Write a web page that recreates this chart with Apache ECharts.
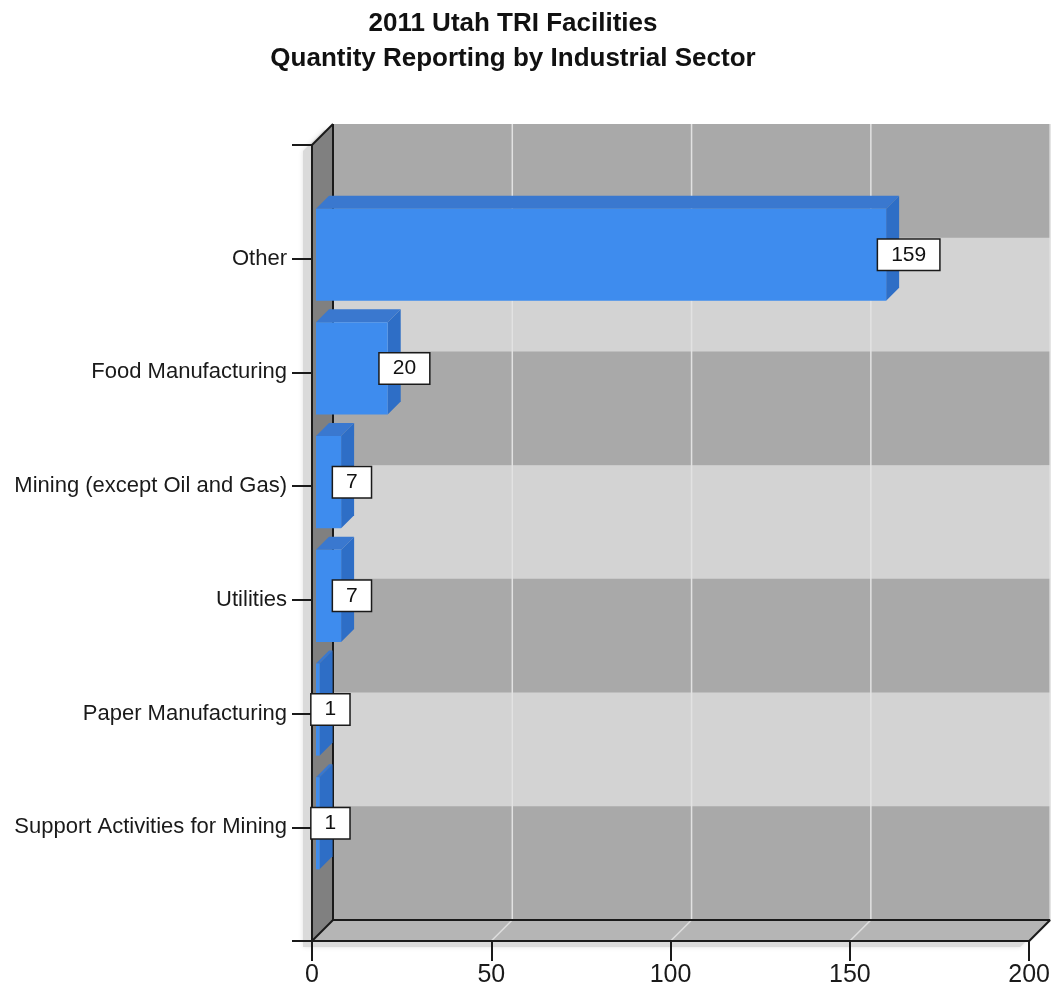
<!DOCTYPE html>
<html>
<head>
<meta charset="utf-8">
<title>2011 Utah TRI Facilities</title>
<script src="https://cdn.jsdelivr.net/npm/echarts@6/dist/echarts.min.js"></script>
<style>
  html, body { margin: 0; padding: 0; background: #ffffff; }
  #chart { width: 1053px; height: 992px; }
</style>
</head>
<body>
<div id="chart"></div>
<script>
// Sectors, listed top to bottom
const categories = [
  'Other',
  'Food Manufacturing',
  'Mining (except Oil and Gas)',
  'Utilities',
  'Paper Manufacturing',
  'Support Activities for Mining'
];
// Number of reporting facilities per sector
const facilityCounts = [159, 20, 7, 7, 1, 1];
// Value axis ticks
const xTicks = [0, 50, 100, 150, 200];

const X_MIN = xTicks[0];
const X_MAX = xTicks[xTicks.length - 1];
const X_STEP = xTicks[1] - xTicks[0];
const Y_MIN = 0;
const Y_MAX = categories.length + 1;

// pseudo-3D geometry (pixels)
const WALL_DEPTH = 21;
const BAR_FRONT = 4;
const BAR_DEPTH = 13;
const FONT = '"Liberation Sans", Arial, sans-serif';
const INK = '#1a1a1a';
const BAND_COLORS = ['#a9a9a9', '#d3d3d3'];

const barData = facilityCounts.map((v, i) => [v, i + 1]);

function shift(p, dx, dy) { return [p[0] + dx, p[1] + dy]; }

// drop shadow, striped back wall, side wall, floor and edges of the 3D box
function renderFrame(params, api) {
  const D = WALL_DEPTH;
  const back = p => shift(p, D, -D);
  const tl = api.coord([X_MIN, Y_MIN]);
  const bl = api.coord([X_MIN, Y_MAX]);
  const br = api.coord([X_MAX, Y_MAX]);
  const tr = api.coord([X_MAX, Y_MIN]);
  const children = [];

  const silhouette = [tl, back(tl), back(tr), back(br), br, bl].map(p => shift(p, -9, 6));
  children.push({
    type: 'polygon', shape: { points: silhouette },
    style: { fill: '#dadada', shadowBlur: 5, shadowColor: 'rgba(0,0,0,0.12)' }
  });

  // back wall stripes, one per axis interval
  for (let i = Y_MIN; i < Y_MAX; i++) {
    const a = back(api.coord([X_MIN, i]));
    const b = back(api.coord([X_MAX, i + 1]));
    children.push({
      type: 'rect',
      shape: { x: a[0], y: a[1], width: b[0] - a[0], height: b[1] - a[1] + 0.5 },
      style: { fill: BAND_COLORS[(i - Y_MIN) % 2] }
    });
  }
  // back wall grid lines
  xTicks.slice(1).forEach(t => {
    const p = back(api.coord([t, Y_MIN]));
    const q = back(api.coord([t, Y_MAX]));
    children.push({
      type: 'line', shape: { x1: p[0], y1: p[1], x2: q[0], y2: q[1] },
      style: { stroke: '#e2e2e2', lineWidth: 1.5 }
    });
  });

  children.push({
    type: 'polygon', shape: { points: [tl, back(tl), back(bl), bl] },
    style: { fill: '#808080' }
  });
  children.push({
    type: 'polygon', shape: { points: [bl, back(bl), back(br), br] },
    style: { fill: '#b5b5b5' }
  });
  xTicks.slice(1, -1).forEach(t => {
    const p = api.coord([t, Y_MAX]);
    children.push({
      type: 'line', shape: { x1: p[0], y1: p[1], x2: p[0] + D, y2: p[1] - D },
      style: { stroke: '#dedede', lineWidth: 1.5 }
    });
  });
  const edges = [
    [back(tl), back(bl)],
    [tl, back(tl)],
    [back(bl), back(br)],
    [bl, back(bl)],
    [br, back(br)]
  ];
  edges.forEach(e => {
    children.push({
      type: 'line', shape: { x1: e[0][0], y1: e[0][1], x2: e[1][0], y2: e[1][1] },
      style: { stroke: INK, lineWidth: 2 }
    });
  });
  return { type: 'group', children };
}

// one 3D bar with its value box
function renderBar(params, api) {
  const value = api.value(0);
  const pos = api.value(1);
  const base = api.coord([X_MIN, pos]);
  const end = api.coord([value, pos]);
  const band = api.size([0, 1])[1];
  const h = band * 0.81;
  const x0 = base[0] + BAR_FRONT;
  const x1 = end[0] + BAR_FRONT;
  const yc = base[1] - BAR_FRONT;
  const yt = yc - h / 2;
  const yb = yc + h / 2;
  const d = BAR_DEPTH;
  return {
    type: 'group',
    children: [
      {
        type: 'polygon',
        shape: { points: [[x0, yt], [x1, yt], [x1 + d, yt - d], [x0 + d, yt - d]] },
        style: { fill: '#3a78cf' }
      },
      {
        type: 'polygon',
        shape: { points: [[x1, yt], [x1 + d, yt - d], [x1 + d, yb - d], [x1, yb]] },
        style: { fill: '#2e6ec6' }
      },
      {
        type: 'rect',
        shape: { x: x0, y: yt, width: x1 - x0, height: h },
        style: { fill: '#3e8cee' }
      },
      {
        type: 'text',
        x: x1 - 8,
        y: yc,
        style: {
          text: String(value),
          font: '21px ' + FONT,
          fill: '#111111',
          align: 'left',
          verticalAlign: 'middle',
          backgroundColor: '#ffffff',
          borderColor: INK,
          borderWidth: 1.5,
          padding: [5, 13, 4, 13]
        }
      }
    ]
  };
}

const axisLineStyle = { color: INK, width: 2 };

const option = {
  backgroundColor: '#ffffff',
  animation: false,
  title: {
    text: '2011 Utah TRI Facilities\nQuantity Reporting by Industrial Sector',
    left: 508,
    top: 1,
    textAlign: 'center',
    textStyle: {
      fontFamily: FONT,
      fontSize: 26,
      fontWeight: 'bold',
      lineHeight: 35,
      color: '#111111'
    }
  },
  grid: { left: 312, top: 145, width: 718, height: 796 },
  xAxis: {
    type: 'value', min: X_MIN, max: X_MAX, interval: X_STEP,
    z: 5,
    axisLine: { show: true, onZero: false, lineStyle: axisLineStyle },
    axisTick: { show: true, length: 20, lineStyle: axisLineStyle },
    axisLabel: { fontFamily: FONT, fontSize: 25, color: INK, margin: 22 },
    splitLine: { show: false }
  },
  yAxis: {
    type: 'value', inverse: true, min: Y_MIN, max: Y_MAX, interval: 1,
    z: 5,
    axisLine: { show: true, onZero: false, lineStyle: axisLineStyle },
    axisTick: { show: true, length: 20, lineStyle: axisLineStyle },
    axisLabel: {
      fontFamily: FONT, fontSize: 22, color: INK, margin: 25,
      formatter: v => categories[v - 1] || ''
    },
    splitLine: { show: false }
  },
  series: [
    {
      type: 'custom',
      name: 'frame',
      z: 1,
      clip: false,
      silent: true,
      data: [[X_MIN, Y_MIN]],
      renderItem: renderFrame
    },
    {
      type: 'custom',
      name: 'Facilities',
      z: 6,
      clip: false,
      data: barData,
      encode: { x: 0, y: 1 },
      renderItem: renderBar
    }
  ]
};

const chart = echarts.init(document.getElementById('chart'), null, { renderer: 'canvas' });
chart.setOption(option);
</script>
</body>
</html>
